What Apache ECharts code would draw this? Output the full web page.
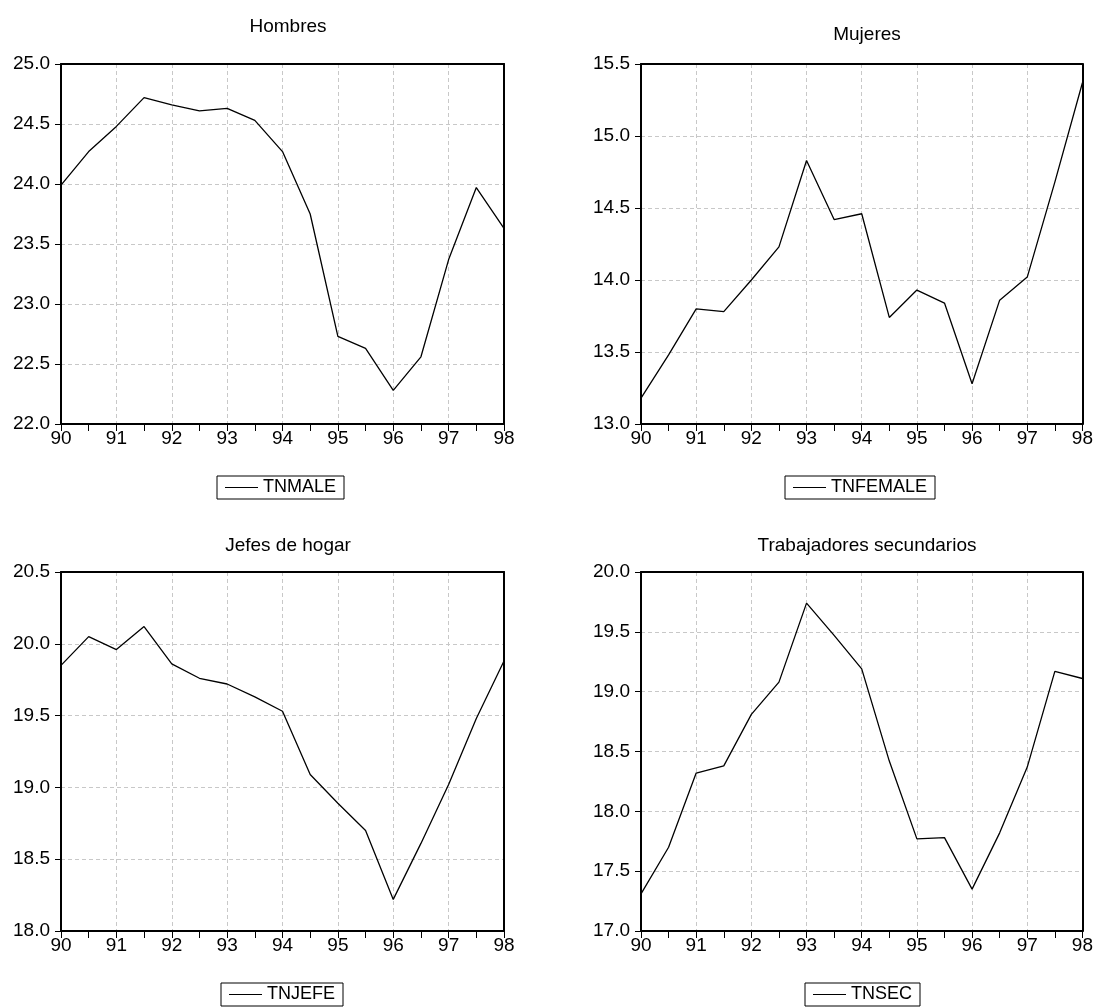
<!DOCTYPE html>
<html>
<head>
<meta charset="utf-8">
<script src="https://cdn.jsdelivr.net/npm/echarts@6/dist/echarts.min.js"></script>
<style>
html,body{margin:0;padding:0;background:#fff;}
#chart{width:1096px;height:1007px;}
</style>
</head>
<body>
<div id="chart"></div>
<script>
// Semiannual periods (year 1990 = 90)
var periods = [90, 90.5, 91, 91.5, 92, 92.5, 93, 93.5, 94, 94.5, 95, 95.5, 96, 96.5, 97, 97.5, 98];

var titles = ['Hombres', 'Mujeres', 'Jefes de hogar', 'Trabajadores secundarios'];
var seriesNames = ['TNMALE', 'TNFEMALE', 'TNJEFE', 'TNSEC'];

var tnmale   = [23.99, 24.27, 24.48, 24.72, 24.66, 24.61, 24.63, 24.53, 24.27, 23.75, 22.73, 22.63, 22.28, 22.56, 23.37, 23.97, 23.63];
var tnfemale = [13.18, 13.48, 13.80, 13.78, 14.00, 14.23, 14.83, 14.42, 14.46, 13.74, 13.93, 13.84, 13.28, 13.86, 14.02, 14.68, 15.37];
var tnjefe   = [19.85, 20.05, 19.96, 20.12, 19.86, 19.76, 19.72, 19.63, 19.53, 19.09, 18.89, 18.70, 18.22, 18.61, 19.02, 19.48, 19.88];
var tnsec    = [17.31, 17.70, 18.32, 18.38, 18.81, 19.08, 19.74, 19.47, 19.19, 18.42, 17.77, 17.78, 17.35, 17.82, 18.37, 19.17, 19.11];

// y-axis ranges (min, max) for each panel
var yMins = [22.0, 13.0, 18.0, 17.0];
var yMaxs = [25.0, 15.5, 20.5, 20.0];

var allValues = [tnmale, tnfemale, tnjefe, tnsec];

var FONT = "'Liberation Sans', Arial, sans-serif";

var grids = [
  {left: 61,  top: 64,  width: 443, height: 360},
  {left: 641, top: 64,  width: 443, height: 360},
  {left: 61,  top: 572, width: 443, height: 359},
  {left: 641, top: 572, width: 443, height: 359}
];
var titlePos = [
  {x: 283, y: 12},
  {x: 862, y: 20},
  {x: 283, y: 531},
  {x: 862, y: 531}
];
var legendPos = [
  {left: 217, top: 476},
  {left: 785, top: 476},
  {left: 221, top: 983},
  {left: 805, top: 983}
];

var option = {
  backgroundColor: '#fff',
  animation: false,
  textStyle: {fontFamily: FONT},
  title: [],
  grid: [],
  xAxis: [],
  yAxis: [],
  legend: [],
  series: []
};

for (var i = 0; i < 4; i++) {
  option.title.push({
    text: titles[i],
    left: titlePos[i].x,
    top: titlePos[i].y,
    textAlign: 'center',
    textStyle: {fontFamily: FONT, fontSize: 19, fontWeight: 'normal', color: '#000'}
  });
  option.grid.push({
    left: grids[i].left, top: grids[i].top, width: grids[i].width, height: grids[i].height,
    show: false
  });
  // bottom x axis
  option.xAxis.push({
    type: 'value', gridIndex: i, min: 90, max: 98, interval: 1, position: 'bottom',
    axisLine: {show: true, onZero: false, lineStyle: {color: '#000', width: 2}},
    axisTick: {show: true, length: 7, lineStyle: {color: '#000', width: 1}},
    minorTick: {show: true, splitNumber: 2, length: 7, lineStyle: {color: '#000', width: 1}},
    axisLabel: {color: '#000', fontSize: 19, fontFamily: FONT, margin: 5},
    splitLine: {show: true, showMinLine: false, showMaxLine: false,
      lineStyle: {color: '#c8c8c8', type: [4, 3], width: 1}}
  });
  // left y axis
  option.yAxis.push({
    type: 'value', gridIndex: i, min: yMins[i], max: yMaxs[i], interval: 0.5, position: 'left',
    axisLine: {show: true, onZero: false, lineStyle: {color: '#000', width: 2}},
    axisTick: {show: true, length: 6, lineStyle: {color: '#000', width: 1}},
    axisLabel: {color: '#000', fontSize: 19, fontFamily: FONT, margin: 11,
      formatter: function (v) { return v.toFixed(1); }},
    splitLine: {show: true, showMinLine: false, showMaxLine: false,
      lineStyle: {color: '#c8c8c8', type: [4, 3], width: 1}}
  });
  option.legend.push({
    data: [seriesNames[i]],
    left: legendPos[i].left, top: legendPos[i].top,
    orient: 'horizontal',
    borderColor: '#000', borderWidth: 1, borderRadius: 0,
    padding: [2, 8, 2, 8],
    icon: 'rect',
    itemWidth: 33, itemHeight: 1.2, itemGap: 5,
    itemStyle: {color: '#000', borderWidth: 0},
    selectedMode: false,
    textStyle: {color: '#000', fontSize: 18, fontFamily: FONT, lineHeight: 19}
  });
  var pts = [];
  for (var k = 0; k < periods.length; k++) {
    pts.push([periods[k], allValues[i][k]]);
  }
  option.series.push({
    name: seriesNames[i], type: 'line', xAxisIndex: i, yAxisIndex: i,
    data: pts, symbol: 'none', showSymbol: false,
    lineStyle: {color: '#000', width: 1.3},
    itemStyle: {color: '#000'}
  });
}

// frame: top and right edges of each plot box
for (var j = 0; j < 4; j++) {
  option.xAxis.push({
    type: 'value', gridIndex: j, min: 90, max: 98, position: 'top',
    axisLine: {show: true, onZero: false, lineStyle: {color: '#000', width: 2}},
    axisTick: {show: false}, axisLabel: {show: false}, splitLine: {show: false}
  });
  option.yAxis.push({
    type: 'value', gridIndex: j, min: yMins[j], max: yMaxs[j], position: 'right',
    axisLine: {show: true, onZero: false, lineStyle: {color: '#000', width: 2}},
    axisTick: {show: false}, axisLabel: {show: false}, splitLine: {show: false}
  });
}

var chart = echarts.init(document.getElementById('chart'), null, {renderer: 'canvas'});
chart.setOption(option);
</script>
</body>
</html>
